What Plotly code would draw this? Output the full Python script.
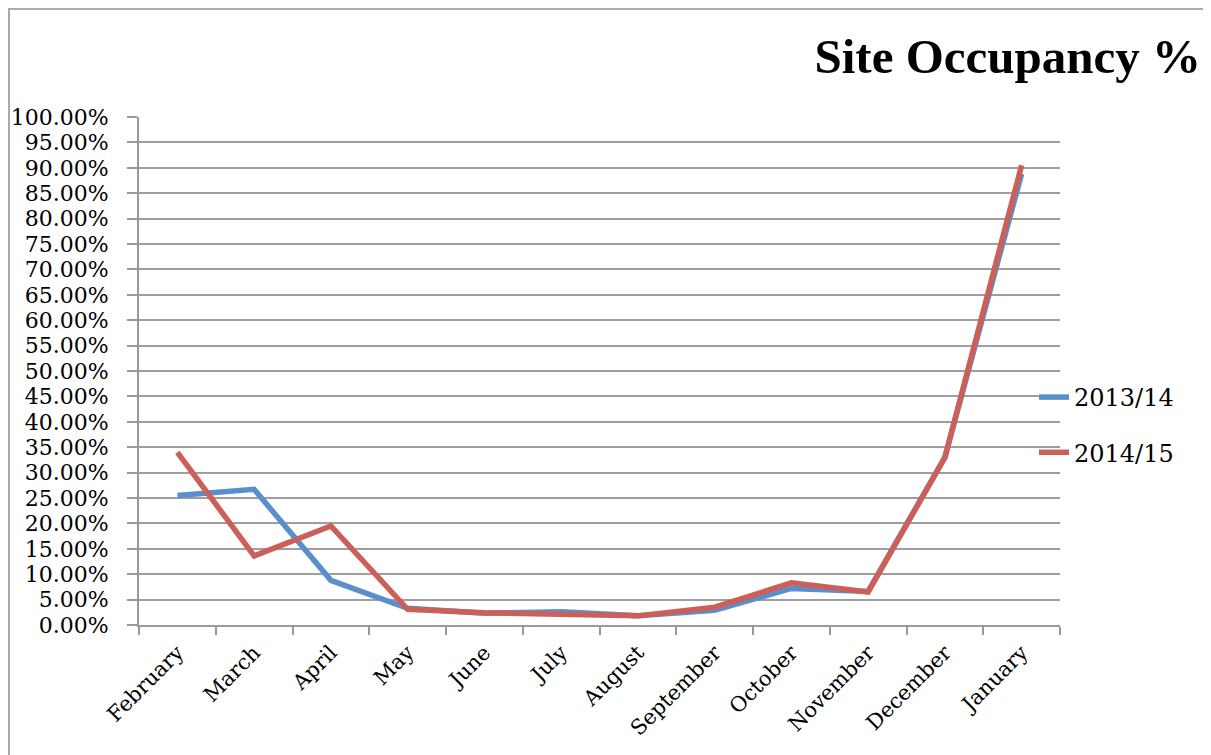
import plotly.graph_objects as go

months = ["February", "March", "April", "May", "June", "July", "August",
          "September", "October", "November", "December", "January"]
occ_2013_14 = [25.5, 26.7, 8.8, 3.3, 2.3, 2.6, 1.8, 2.9, 7.2, 6.6, 33.0, 88.8]
occ_2014_15 = [34.0, 13.6, 19.5, 3.1, 2.4, 2.1, 1.8, 3.5, 8.3, 6.5, 33.0, 90.5]
y_ticks = [i * 5 for i in range(21)]
y_tick_labels = [f"{v:.2f}%" for v in y_ticks]

FONT = "DejaVu Serif"
OFF = 8  # default page body margin
W, H = 1211 - OFF, 755 - OFF
L, T = 139 - OFF, 117 - OFF
R = 1211 - 1060
B = 755 - 625
pw, ph = W - L - R, H - T - B


def px_x(x):
    return (x - OFF - L) / pw


def px_y(y):
    return (H - B - (y - OFF)) / ph


fig = go.Figure()
fig.add_trace(go.Scatter(x=months, y=occ_2013_14, mode="lines", name="2013/14",
                         legendgroup="a",
                         line=dict(color="#5B8FCB", width=5.5)))
fig.add_trace(go.Scatter(x=months, y=occ_2014_15, mode="lines", name="2014/15",
                         legendgroup="b",
                         line=dict(color="#CC5F57", width=5.5)))

fig.update_layout(
    width=W, height=H,
    margin=dict(l=L, r=R, t=T, b=B, autoexpand=False),
    paper_bgcolor="white", plot_bgcolor="white",
    font=dict(family=FONT, size=21, color="black"),
    title=dict(text="<b>Site Occupancy %</b>", x=(1201 - OFF) / W, xanchor="right",
               y=1 - (56 - OFF) / H, yanchor="middle",
               font=dict(family="Liberation Serif", size=49, color="black")),
    showlegend=True,
    legend=dict(x=px_x(1034), xanchor="left", y=px_y(425), yanchor="middle",
                tracegroupgap=21, font=dict(family=FONT, size=24),
                bgcolor="rgba(0,0,0,0)"),
    xaxis=dict(type="category", range=[-0.5, 11.5], tickangle=-45, automargin=False,
               showgrid=False, showline=True, linecolor="#999999", linewidth=2,
               ticks="outside", tickson="boundaries", ticklen=8, tickcolor="#999999",
               tickwidth=2, ticklabelstandoff=5, tickfont=dict(family=FONT, size=21)),
    yaxis=dict(range=[0, 100], tickvals=y_ticks, ticktext=y_tick_labels, automargin=False,
               showgrid=True, gridcolor="#9E9E9E", gridwidth=2,
               showline=True, linecolor="#999999", linewidth=2,
               ticks="outside", ticklen=10, tickcolor="#999999", tickwidth=2,
               ticklabelstandoff=14,
               zeroline=False, tickfont=dict(family=FONT, size=22)),
    shapes=[dict(type="rect", xref="paper", yref="paper",
                 x0=px_x(9), x1=px_x(1207),
                 y0=px_y(770), y1=px_y(9),
                 line=dict(color="#AAAAAA", width=2), layer="below")],
)

fig.write_html("out.html")
